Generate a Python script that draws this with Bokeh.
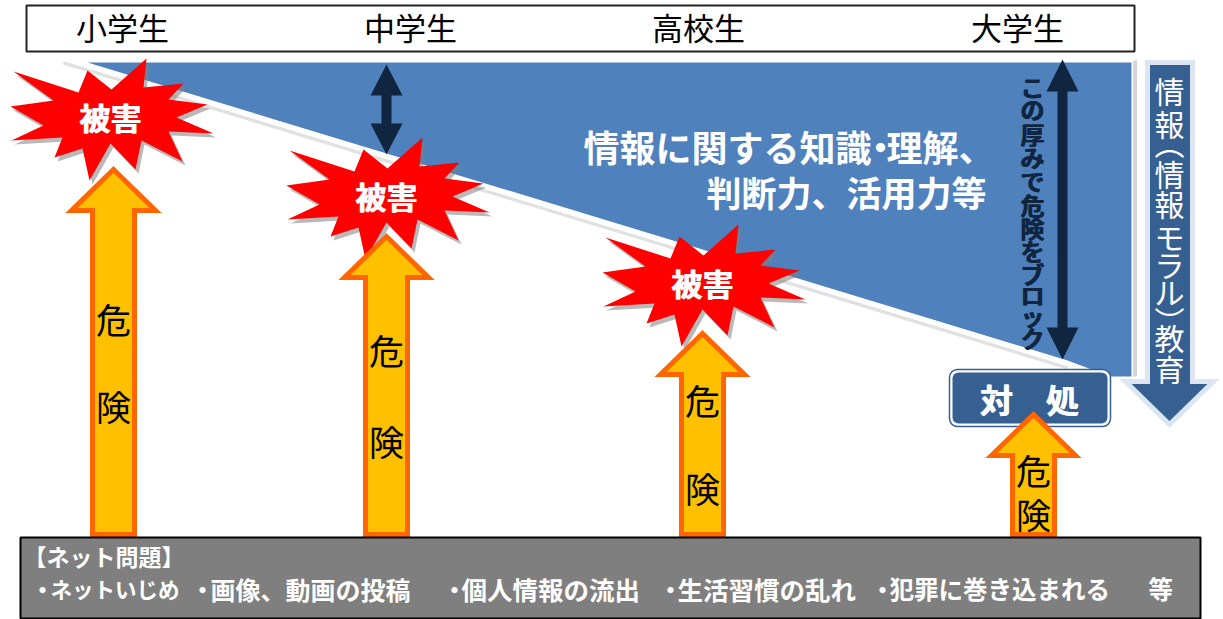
from bokeh.plotting import figure
from bokeh.models import Range1d
from bokeh.core.properties import value
from bokeh.embed import file_html
from bokeh.resources import INLINE

# ---- diagram content, in reference pixel units ----
stages = ["小学生", "中学生", "高校生", "大学生"]
stage_x = [122, 410, 698, 1017]
risk_x = [113, 386, 702, 1033]
risk_tip = [166, 233, 330, 411]
risk_kiken_y = [318, 349, 399, 469]
risk_ken_y = [405, 440, 487, 513]
harm_x = [110, 386, 702]
harm_y = [118, 197, 284]
burst_dx = [36, 33, 73, 58, 97, 66, 103, 58, 72, 31, 25, 0, -21, -28, -56, -48, -99, -67, -100, -57, -97, -32, -23, 1]
burst_dy = [-60, -31, -35, -19, -14, -1, 15, 13, 43, 22, 51, 25, 62, 30, 39, 19, 22, 7, -12, -18, -47, -26, -48, -29]
wedge_x = [87, 1131, 1131, 1110, 1067]
wedge_y = [62, 62, 376, 376, 360]
edge_x = [63, 1067]
edge_y = [58, 363]
block_text = list("この厚みで危険をブロック")
block_y = [86, 108, 133, 156, 180, 204, 227, 250, 273, 294, 315, 337]
edu_text = ["情", "報", "︵", "情", "報", "モ", "ラ", "ル", "︶", "教", "育"]
edu_y = [89, 122, 141, 172, 202, 235, 263, 290, 319, 336, 367]
problems = ["ネットいじめ", "画像、動画の投稿", "個人情報の流出", "生活習慣の乱れ", "犯罪に巻き込まれる", "等"]
problem_x = [50, 210, 461, 677, 889, 1148]
problem_size = ["21.5px", "25px", "25.5px", "25.5px", "24.5px", "24.5px"]
bullet_x = [42, 202, 454, 670, 882]

JP = value("Noto Sans CJK JP")
BLUE, NAVY, STEEL = "#4f81bd", "#10253f", "#376092"

p = figure(width=1223, height=619, output_backend="svg", toolbar_location=None,
           x_range=Range1d(0, 1223), y_range=Range1d(619, 0), min_border=0,
           outline_line_color=None, background_fill_color="white", border_fill_color="white")
p.axis.visible = False
p.grid.visible = False

# top band
p.quad(left=[26], right=[1134], top=[5], bottom=[51], fill_color="white", line_color="#222222", line_width=2)
p.text(stage_x, [26] * 4, text=stages, text_font=JP, text_font_size="31px",
       text_align="center", text_baseline="middle", text_color="black")

# wedge of knowledge
p.patch(wedge_x, wedge_y, fill_color=BLUE, line_color=None)
p.line([1134.5, 1134.5], [60, 376], line_color="#d4d4d4", line_width=4)
p.line(edge_x, [edge_y[0] + 4, edge_y[1] + 4], line_color="#9a9a9a", line_width=4, line_alpha=0.3)
p.line(edge_x, edge_y, line_color="white", line_width=5)
big_kw = dict(text_font=JP, text_font_style="bold", text_baseline="middle", text_color="white")
p.text([583, 886], [145, 145], text=["情報に関する知識", "理解、"], text_align="left", text_font_size="36px", **big_kw)
p.text([880], [145], text=["・"], text_align="center", text_font_size="36px", **big_kw)
p.text([706], [191], text=["判断力、活用力等"], text_align="left", text_font_size="35px", **big_kw)


def double_arrow(x, y0, y1, head_half, head_len, shaft_half):
    xs = [x, x + head_half, x + shaft_half, x + shaft_half, x + head_half, x,
          x - head_half, x - shaft_half, x - shaft_half, x - head_half]
    ys = [y0, y0 + head_len, y0 + head_len, y1 - head_len, y1 - head_len, y1,
          y1 - head_len, y1 - head_len, y0 + head_len, y0 + head_len]
    p.patch(xs, ys, fill_color=NAVY, line_color=None)


double_arrow(386, 64, 154, 16, 31, 5)
double_arrow(1062, 59, 359, 16, 32, 5)
for off in (-0.4, 0.4):
    p.text([1032 + off] * len(block_text), block_y, text=block_text, text_font=JP, text_font_style="bold",
           text_font_size="24px", text_align="center", text_baseline="middle", text_color=NAVY)

# education arrow
edu_xs = [1147, 1192, 1192, 1213, 1169, 1125, 1147]
edu_ys = [62, 62, 381, 381, 424, 381, 381]
p.patch(edu_xs, edu_ys, fill_color=STEEL, line_color="#dce6f2", line_width=5, line_join="miter")
p.text([1169] * len(edu_text), edu_y, text=edu_text, text_font=JP, text_font_size="30px",
       text_align="center", text_baseline="middle", text_color="white")

# harm bursts
for cx, cy in zip(harm_x, harm_y):
    p.patch([cx + d + 3 for d in burst_dx], [cy + d + 4 for d in burst_dy],
            fill_color="#808080", fill_alpha=0.55, line_color=None)
for cx, cy in zip(harm_x, harm_y):
    p.patch([cx + d for d in burst_dx], [cy + d for d in burst_dy], fill_color="#ff0000", line_color=None)
for off in (-0.6, 0.6):
    p.text([x + off for x in harm_x], [y - 2 for y in harm_y], text=["被害"] * 3, text_font=JP,
           text_font_style="bold", text_font_size="31px",
           text_align="center", text_baseline="middle", text_color="white")

# response box
p.quad(left=[949], right=[1110], top=[369], bottom=[426], fill_color="white", line_color=STEEL,
       line_width=1.5, border_radius=8)
p.quad(left=[952], right=[1107], top=[372], bottom=[423], fill_color=STEEL, line_color=None, border_radius=6)
for off in (-0.5, 0.5):
    p.text([1029 + off], [398], text=["対　処"], text_font=JP, text_font_style="bold", text_font_size="33px",
           text_align="center", text_baseline="middle", text_color="white")

# risk arrows
for cx, tip in zip(risk_x, risk_tip):
    xs = [cx, cx + 42, cx + 21, cx + 21, cx - 21, cx - 21, cx - 42]
    ys = [tip + 3, tip + 44, tip + 44, 534, 534, tip + 44, tip + 44]
    p.patch(xs, ys, fill_color="#ffc000", line_color="#ff6600", line_width=5, line_join="miter")
for ys in (risk_kiken_y, risk_ken_y):
    label = "危" if ys is risk_kiken_y else "険"
    p.text(risk_x, ys, text=[label] * 4, text_font=JP, text_font_size="35px", text_align="center",
           text_baseline="middle", text_color="black")

# problems band
p.quad(left=[20], right=[1200], top=[537], bottom=[618], fill_color="#7f7f7f", line_color="black", line_width=2)
p.text([23], [555], text=["【ネット問題】"], text_font=JP, text_font_style="bold", text_font_size="23px",
       text_align="left", text_baseline="middle", text_color="white")
p.text(bullet_x, [588] * 5, text=["・"] * 5, text_font=JP, text_font_style="bold", text_font_size="24px",
       text_align="center", text_baseline="middle", text_color="white")
for label, x, size in zip(problems, problem_x, problem_size):
    p.text([x], [588], text=[label], text_font=JP, text_font_style="bold", text_font_size=size,
           text_align="left", text_baseline="middle", text_color="white")

open("out.html", "w").write(file_html(p, INLINE))
